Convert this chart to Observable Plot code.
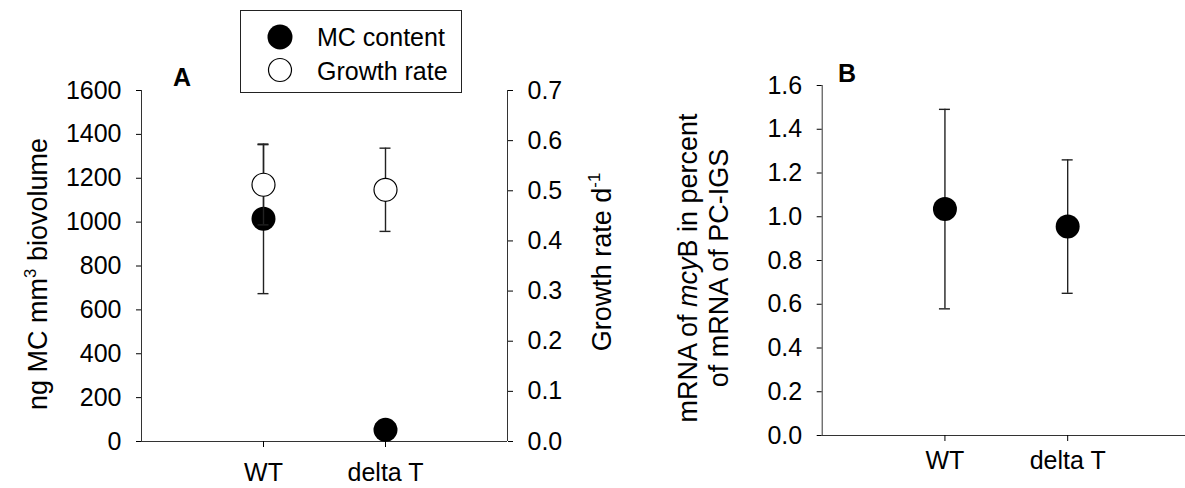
<!DOCTYPE html>
<html><head><meta charset="utf-8">
<script src="https://cdn.jsdelivr.net/npm/d3@7"></script>
<script src="https://cdn.jsdelivr.net/npm/@observablehq/plot@0.6"></script>
<style>
html,body{margin:0;padding:0;background:#fff;}
#wrap{position:relative;width:1185px;height:488px;overflow:hidden;background:#fff;font-family:"Liberation Sans",Arial,sans-serif;}
#wrap > * {position:absolute;top:0;}
</style></head><body><div id="wrap"></div>
<script>
// ---- data ----
const groups = ["WT", "delta T"];
const mcContent = [1015, 53];
const mcError = [341, 6];
const growthRate = [0.512, 0.502];
const growthError = [0.080, 0.083];
const mrnaPercent = [1.035, 0.955];
const mrnaError = [0.456, 0.305];
const mcTicks = [0, 200, 400, 600, 800, 1000, 1200, 1400, 1600];
const growthTicks = [0, 0.1, 0.2, 0.3, 0.4, 0.5, 0.6, 0.7];
const mrnaTicks = [0, 0.2, 0.4, 0.6, 0.8, 1.0, 1.2, 1.4, 1.6];

const rows = groups.map((g, i) => ({
  group: g, pos: i + 1,
  mc: mcContent[i], mcErr: mcError[i],
  gr: growthRate[i], grErr: growthError[i],
  mrna: mrnaPercent[i], mrnaErr: mrnaError[i]
}));

const font = '"Liberation Sans", Arial, sans-serif';
const axisColor = "#333";
const barColor = "#222";
const tickFont = 25;
const common = {
  height: 488,
  style: {fontFamily: font, fontSize: "25px", color: "#000", background: "transparent", overflow: "visible"}
};

function errorMarks(key, errKey) {
  return [
    Plot.ruleX(rows, {x: "pos", y1: d => d[key] - d[errKey], y2: d => d[key] + d[errKey], stroke: barColor, strokeWidth: 1.4}),
    Plot.ruleY(rows, {x1: "pos", x2: "pos", y: d => d[key] + d[errKey], insetLeft: -5.5, insetRight: -5.5, stroke: barColor, strokeWidth: 1.4}),
    Plot.ruleY(rows, {x1: "pos", x2: "pos", y: d => d[key] - d[errKey], insetLeft: -5.5, insetRight: -5.5, stroke: barColor, strokeWidth: 1.4})
  ];
}

const marginsA = {width: 600, marginLeft: 141, marginRight: 93, marginTop: 90, marginBottom: 47};

// Panel A, MC content (left axis)
const plotA = Plot.plot({
  ...common, ...marginsA,
  x: {domain: [0, 3]},
  y: {domain: [0, 1600]},
  marks: [
    Plot.ruleX([0], {stroke: axisColor}),
    Plot.ruleY([0], {stroke: axisColor}),
    Plot.axisY({ticks: mcTicks, tickFormat: d => String(d), tickSize: 5, tickPadding: 15, fontSize: tickFont, label: null}),
    Plot.axisX({ticks: [1, 2], tickFormat: d => groups[d - 1], tickSize: 6, tickPadding: 16, fontSize: tickFont, label: null}),
    ...errorMarks("mc", "mcErr"),
    Plot.dot(rows, {x: "pos", y: "mc", r: 12, fill: "#000", stroke: "none"})
  ]
});

// Panel A, growth rate (right axis)
const plotA2 = Plot.plot({
  ...common, ...marginsA,
  x: {domain: [0, 3], axis: null},
  y: {domain: [0, 0.7]},
  marks: [
    Plot.ruleX([3], {stroke: axisColor}),
    Plot.axisY({anchor: "right", ticks: growthTicks, tickFormat: d => d.toFixed(1), tickSize: 5, tickPadding: 15, fontSize: tickFont, label: null}),
    ...errorMarks("gr", "grErr"),
    Plot.dot(rows, {x: "pos", y: "gr", r: 11.5, fill: "#fff", stroke: "#000", strokeWidth: 1.2})
  ]
});

// Panel B
const plotB = Plot.plot({
  ...common,
  width: 585, marginLeft: 221.7, marginRight: 0, marginTop: 85, marginBottom: 53,
  x: {domain: [0, 2.96]},
  y: {domain: [0, 1.6]},
  marks: [
    Plot.ruleX([0], {stroke: axisColor}),
    Plot.ruleY([0], {stroke: axisColor}),
    Plot.axisY({ticks: mrnaTicks, tickFormat: d => d.toFixed(1), tickSize: 5, tickPadding: 15, fontSize: tickFont, label: null}),
    Plot.axisX({ticks: [1, 2], tickFormat: d => groups[d - 1], tickSize: 6, tickPadding: 10, fontSize: tickFont, label: null}),
    ...errorMarks("mrna", "mrnaErr"),
    Plot.dot(rows, {x: "pos", y: "mrna", r: 12, fill: "#000", stroke: "none"})
  ]
});

const wrap = document.getElementById("wrap");
plotA.style.left = "0px";
plotA2.style.left = "0px";
plotB.style.left = "600px";
wrap.appendChild(plotA);
wrap.appendChild(plotB);
wrap.appendChild(plotA2);

// Titles and panel letters
const ov = d3.select(wrap).append("svg")
  .attr("width", 1185).attr("height", 488)
  .style("left", "0px").style("pointer-events", "none")
  .attr("font-family", font).attr("fill", "#000");

function vtitle(x, y, size, parts) {
  const t = ov.append("text").attr("transform", `translate(${x},${y}) rotate(-90)`)
    .attr("text-anchor", "middle").attr("font-size", size);
  parts.forEach(p => {
    const s = t.append("tspan").text(p.text);
    if (p.sup) s.attr("font-size", size * 0.62).attr("dy", -size * 0.42);
    if (p.after) s.attr("dy", size * 0.42);
    if (p.italic) s.attr("font-style", "italic");
  });
}
vtitle(47, 274, 27, [{text: "ng MC mm"}, {text: "3", sup: true}, {text: " biovolume", after: true}]);
vtitle(611, 262, 27, [{text: "Growth rate d"}, {text: "-1", sup: true}]);
vtitle(697, 268, 27, [{text: "mRNA of "}, {text: "mcy", italic: true}, {text: "B in percent"}]);
vtitle(728, 268, 27, [{text: "of mRNA of PC-IGS"}]);

ov.append("text").attr("x", 173).attr("y", 86).attr("font-size", 25).attr("font-weight", "bold").text("A");
ov.append("text").attr("x", 838).attr("y", 82).attr("font-size", 25).attr("font-weight", "bold").text("B");

// Legend
const lg = d3.select(wrap).append("svg")
  .attr("width", 223).attr("height", 84)
  .style("left", "240px").style("top", "10px")
  .attr("font-family", font);
lg.append("rect").attr("x", 0.5).attr("y", 0.5).attr("width", 221).attr("height", 82)
  .attr("fill", "#fff").attr("stroke", "#222").attr("stroke-width", 1);
lg.append("circle").attr("cx", 40).attr("cy", 27).attr("r", 12.5).attr("fill", "#000");
lg.append("circle").attr("cx", 40).attr("cy", 60).attr("r", 11.5).attr("fill", "#fff").attr("stroke", "#000").attr("stroke-width", 1.2);
lg.append("text").attr("x", 77).attr("y", 36).attr("font-size", 25).text("MC content");
lg.append("text").attr("x", 77).attr("y", 69.5).attr("font-size", 25).text("Growth rate");
</script>
</body></html>
